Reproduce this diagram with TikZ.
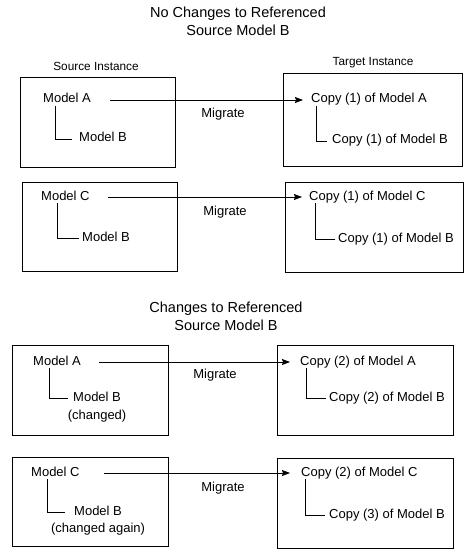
\documentclass[tikz,border=0pt]{standalone}
\usepackage{fontspec}
\setmainfont{Liberation Sans}
\usetikzlibrary{positioning}
\usetikzlibrary{arrows.meta}

\tikzset{
  inst/.style={draw,line width=0.8pt,inner sep=0pt},
  txt/.style={anchor=west,inner sep=0pt,text height=9pt,text depth=3pt,
    font=\fontsize{13}{15}\selectfont},
  lbl/.style={inner sep=0pt,text height=9pt,text depth=3pt,
    font=\fontsize{13}{15}\selectfont},
  head/.style={inner sep=0pt,font=\fontsize{11.8}{14}\selectfont},
  title/.style={inner sep=0pt,align=center,font=\fontsize{14.5}{18}\selectfont},
  mig/.style={-{Stealth[length=8pt,width=6pt,inset=1pt]},line width=0.8pt},
  tree/.style={line width=0.8pt}
}

\begin{document}
\begin{tikzpicture}[x=1pt,y=-1pt]
  \useasboundingbox (0,0) rectangle (464,556);

  % titles
  \node[title] (title1) at (238,21)  {No Changes to Referenced\\Source Model B};
  \node[title] (title2) at (226,316.5) {Changes to Referenced\\Source Model B};
  \node[head]  (srchead) at (96,66) {Source Instance};
  \node[head]  (tgthead) at (373,63) {Target Instance};

  % instance boxes
  \node[inst,minimum width=155,minimum height=90] (src1) at (97.5,122)  {};
  \node[inst,minimum width=179,minimum height=93] (tgt1) at (372.5,119.5) {};
  \node[inst,minimum width=155,minimum height=89] (src2) at (99.5,226.5) {};
  \node[inst,minimum width=178,minimum height=90] (tgt2) at (374,227)   {};
  \node[inst,minimum width=156,minimum height=90] (src3) at (90,390)    {};
  \node[inst,minimum width=176,minimum height=90] (tgt3) at (365,390)   {};
  \node[inst,minimum width=156,minimum height=89] (src4) at (90,501.5)  {};
  \node[inst,minimum width=176,minimum height=90] (tgt4) at (365,503)   {};

  % row 1
  \node[txt] (srcA1)  at (43,100)  {Model A};
  \node[txt] (srcB1)  at (79,139)  {Model B};
  \node[txt] (tgtA1)  at (311,100) {Copy (1) of Model A};
  \node[txt] (tgtB1)  at (332,141) {Copy (1) of Model B};
  \node[lbl] (mig1)   at (223,115) {Migrate};
  \draw[mig]  ([xshift=67]srcA1.west) -- ([xshift=-8]tgtA1.west);
  \draw[tree] ([xshift=12]srcA1.south west) |- ([xshift=-7]srcB1.west);
  \draw[tree] ([xshift=5]tgtA1.south west) |- ([xshift=-5]tgtB1.west);

  % row 2
  \node[txt] (srcC2)  at (41,197)  {Model C};
  \node[txt] (srcB2)  at (82,238)  {Model B};
  \node[txt] (tgtC2)  at (309,197) {Copy (1) of Model C};
  \node[txt] (tgtB2)  at (338,239) {Copy (1) of Model B};
  \node[lbl] (mig2)   at (225,212) {Migrate};
  \draw[mig]  ([xshift=67]srcC2.west) -- ([xshift=-7]tgtC2.west);
  \draw[tree] ([xshift=16]srcC2.south west) |- ([xshift=-3]srcB2.west);
  \draw[tree] ([xshift=6]tgtC2.south west) |- ([xshift=-3]tgtB2.west);

  % row 3
  \node[txt] (srcA3)  at (33,362)  {Model A};
  \node[txt,label={[lbl,label distance=6]below:(changed)}]
             (srcB3)  at (73,398)  {Model B};
  \node[txt] (tgtA3)  at (300,362) {Copy (2) of Model A};
  \node[txt] (tgtB3)  at (329,398) {Copy (2) of Model B};
  \node[lbl] (mig3)   at (215,375) {Migrate};
  \draw[mig]  ([xshift=66]srcA3.west) -- ([xshift=-10]tgtA3.west);
  \draw[tree] ([xshift=16]srcA3.south west) |- ([xshift=-5]srcB3.west);
  \draw[tree] ([xshift=6]tgtA3.south west) |- ([xshift=-3]tgtB3.west);

  % row 4
  \node[txt] (srcC4)  at (31,473)  {Model C};
  \node[txt,label={[lbl,label distance=5]below:(changed again)}]
             (srcB4)  at (74,512)  {Model B};
  \node[txt] (tgtC4)  at (301,473) {Copy (2) of Model C};
  \node[txt] (tgtB4)  at (329,515) {Copy (3) of Model B};
  \node[lbl] (mig4)   at (223,488) {Migrate};
  \draw[mig]  ([xshift=73]srcC4.west) -- ([xshift=-11]tgtC4.west);
  \draw[tree] ([xshift=16]srcC4.south west) |- ([xshift=-9]srcB4.west);
  \draw[tree] ([xshift=4]tgtC4.south west) |- ([xshift=-4]tgtB4.west);
\end{tikzpicture}
\end{document}
